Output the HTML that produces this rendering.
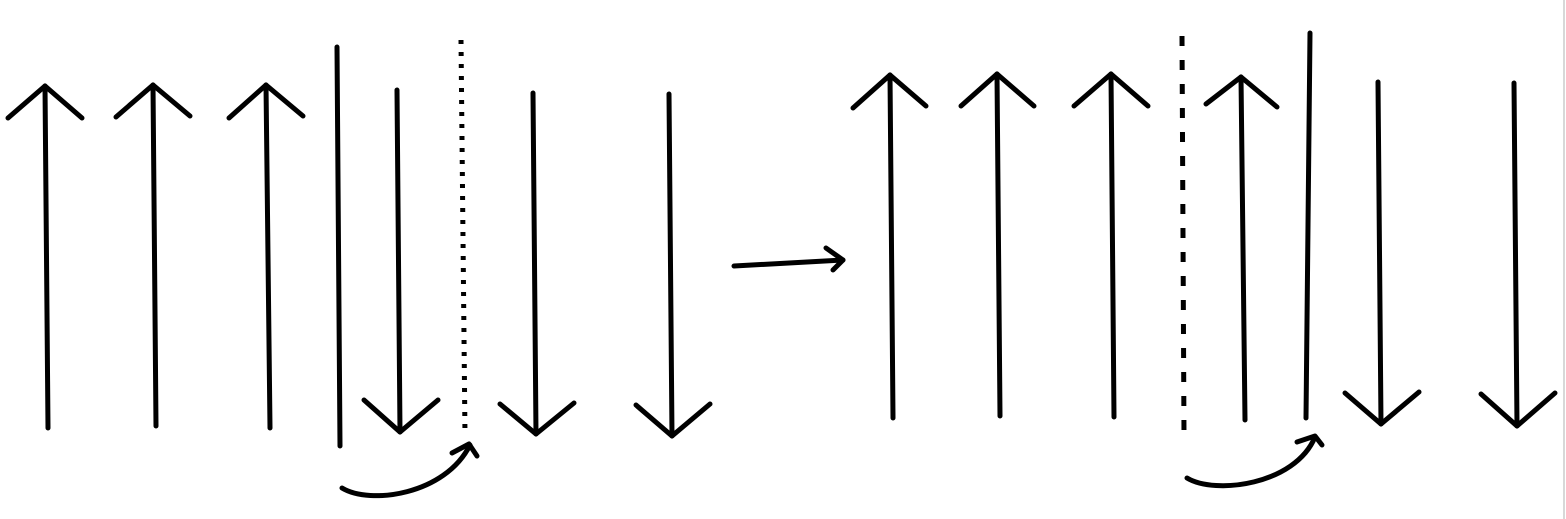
<!DOCTYPE html>
<html>
<head>
<meta charset="utf-8">
<style>
html,body{margin:0;padding:0;background:#fff;width:1566px;height:519px;overflow:hidden;}
svg{display:block;}
.s{stroke:#000;stroke-width:5;fill:none;stroke-linecap:round;stroke-linejoin:round;}
</style>
</head>
<body>
<svg width="1566" height="519" viewBox="0 0 1566 519">
<rect x="0" y="0" width="1566" height="519" fill="#fff"/>
<line x1="1564" y1="0" x2="1564" y2="519" stroke="#d8d8d8" stroke-width="2"/>

<g>
<g class="s"><path d="M48 428 L45 86"/><path d="M8 118 L45 86 L82 118"/></g>
<g class="s"><path d="M156 426 L153 85"/><path d="M116 117 L153 85 L190 116"/></g>
<g class="s"><path d="M270 428 L266 85"/><path d="M229 118 L266 85 L303 116"/></g>
<path class="s" d="M337 47 L340 446"/>
<g class="s"><path d="M397 90 L400 432"/><path d="M364 400 L400 432 L438 400"/></g>
<path class="s" d="M461 40 L465 436" stroke-dasharray="4 8" stroke-linecap="butt" style="stroke-linecap:butt"/>
<g class="s"><path d="M533 93 L536 434"/><path d="M500 404 L536 434 L574 403"/></g>
<g class="s"><path d="M669 94 L672 436"/><path d="M636 405 L672 436 L710 404"/></g>
<g class="s"><path d="M342 488 C370 505 445 495 470 445"/><path d="M452 453 L469 444 L477 456"/></g>
</g>

<g class="s"><path d="M734 266 L843 260"/><path d="M826 248 L843 260 L833 270"/></g>

<g>
<g class="s"><path d="M893 418 L890 75"/><path d="M853 108 L890 75 L926 106"/></g>
<g class="s"><path d="M1000 416 L997 74"/><path d="M961 106 L997 74 L1034 106"/></g>
<g class="s"><path d="M1114 417 L1111 74"/><path d="M1074 106 L1111 74 L1148 106"/></g>
<path class="s" d="M1182 36 L1184 436" stroke-dasharray="10 14" style="stroke-linecap:butt"/>
<g class="s"><path d="M1245 420 L1241 77"/><path d="M1206 104 L1241 77 L1277 107"/></g>
<path class="s" d="M1310 33 L1306 418"/>
<g class="s"><path d="M1378 82 L1381 424"/><path d="M1345 393 L1381 424 L1419 392"/></g>
<g class="s"><path d="M1514 83 L1517 426"/><path d="M1481 394 L1517 426 L1555 393"/></g>
<g class="s"><path d="M1187 478 C1215 495 1295 485 1315 437"/><path d="M1297 442 L1315 436 L1322 445"/></g>
</g>
</svg>
</body>
</html>
